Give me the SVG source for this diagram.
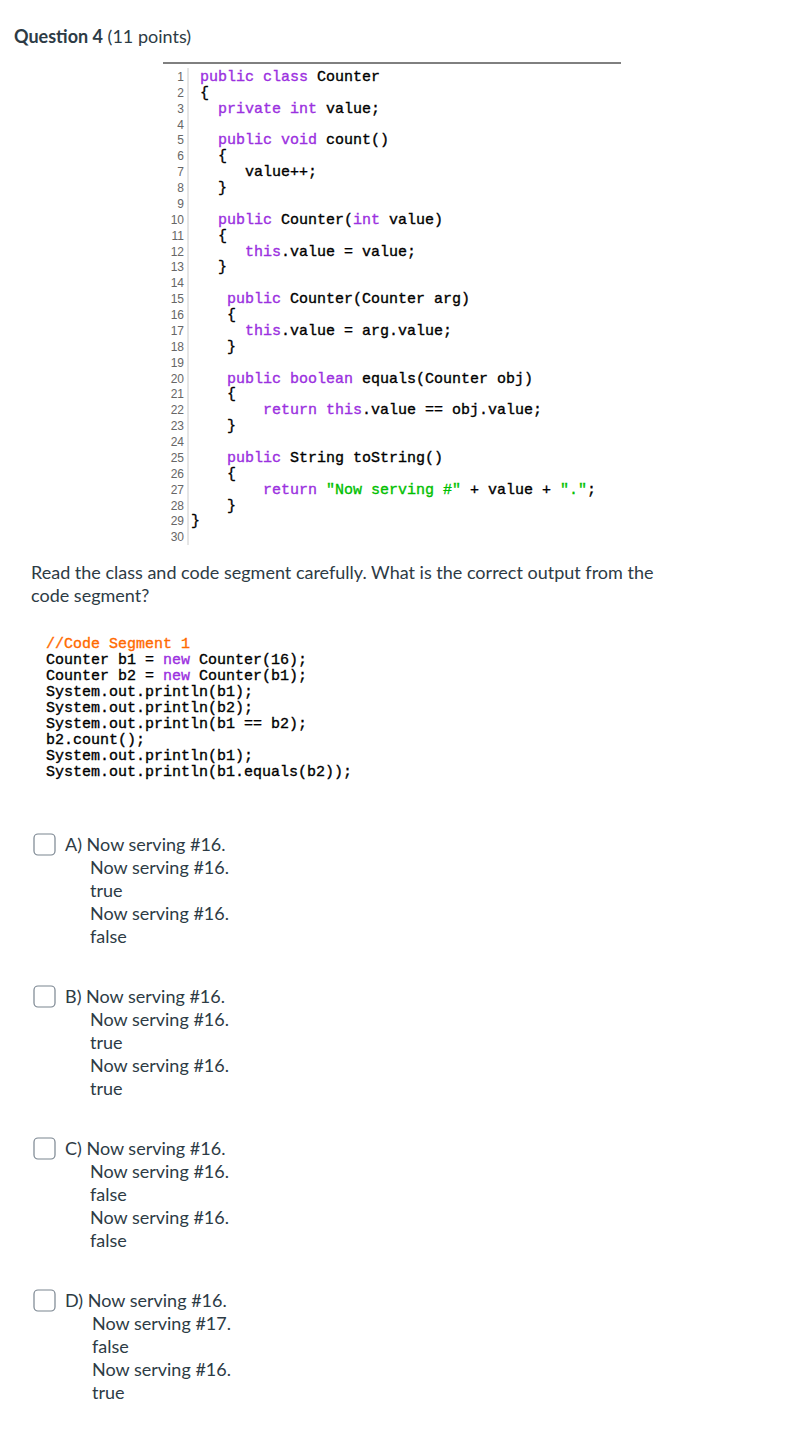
<svg xmlns="http://www.w3.org/2000/svg" width="807" height="1445" viewBox="0 0 807 1445">
<style>
.t{font-family:Lato,"Liberation Sans",sans-serif;fill:#2d3b45;font-size:18px}
.c{font-family:"Liberation Mono",monospace;font-size:15px;fill:#000;stroke:#000;stroke-width:0.35}
.n{font-family:"Liberation Sans",sans-serif;font-size:12px;fill:#666;text-anchor:end}
.k{fill:#9b30e0;stroke:#9b30e0}
.s{fill:#00c000;stroke:#00c000}
.o{fill:#ff6a00;stroke:#ff6a00}
.cb{fill:#fff;stroke:#7a8590;stroke-width:1.2}
</style>
<rect width="807" height="1445" fill="#fff"/>
<text x="14" y="43" class="t"><tspan font-weight="bold">Question 4</tspan> (11 points)</text>
<line x1="163" y1="63" x2="621" y2="63" stroke="#000" stroke-width="1"/>
<line x1="188" y1="68" x2="188" y2="545" stroke="#ccc" stroke-width="1"/>
<g class="n">
<text x="184" y="81">1</text><text x="184" y="97">2</text><text x="184" y="113">3</text><text x="184" y="129">4</text><text x="184" y="144">5</text><text x="184" y="160">6</text><text x="184" y="176">7</text><text x="184" y="192">8</text><text x="184" y="208">9</text><text x="184" y="224">10</text><text x="184" y="240">11</text><text x="184" y="256">12</text><text x="184" y="271">13</text><text x="184" y="287">14</text><text x="184" y="303">15</text><text x="184" y="319">16</text><text x="184" y="335">17</text><text x="184" y="351">18</text><text x="184" y="367">19</text><text x="184" y="383">20</text><text x="184" y="398">21</text><text x="184" y="414">22</text><text x="184" y="430">23</text><text x="184" y="446">24</text><text x="184" y="462">25</text><text x="184" y="478">26</text><text x="184" y="494">27</text><text x="184" y="510">28</text><text x="184" y="525">29</text>
</g>
<svg x="0" y="0" width="807" height="545"><text x="184" y="541" class="n">30</text></svg>
<g class="c">
<text x="200" y="81"><tspan class="k">public class</tspan> Counter</text>
<text x="200" y="97">{</text>
<text x="218" y="113"><tspan class="k">private int</tspan> value;</text>
<text x="218" y="144"><tspan class="k">public void</tspan> count()</text>
<text x="218" y="160">{</text>
<text x="245" y="176">value++;</text>
<text x="218" y="192">}</text>
<text x="218" y="224"><tspan class="k">public</tspan> Counter(<tspan class="k">int</tspan> value)</text>
<text x="218" y="240">{</text>
<text x="245" y="256"><tspan class="k">this</tspan>.value = value;</text>
<text x="218" y="271">}</text>
<text x="227" y="303"><tspan class="k">public</tspan> Counter(Counter arg)</text>
<text x="227" y="319">{</text>
<text x="245" y="335"><tspan class="k">this</tspan>.value = arg.value;</text>
<text x="227" y="351">}</text>
<text x="227" y="383"><tspan class="k">public boolean</tspan> equals(Counter obj)</text>
<text x="227" y="398">{</text>
<text x="263" y="414"><tspan class="k">return this</tspan>.value == obj.value;</text>
<text x="227" y="430">}</text>
<text x="227" y="462"><tspan class="k">public</tspan> String toString()</text>
<text x="227" y="478">{</text>
<text x="263" y="494"><tspan class="k">return</tspan> <tspan class="s">"Now serving #"</tspan> + value + <tspan class="s">"."</tspan>;</text>
<text x="227" y="510">}</text>
<text x="191" y="525">}</text>
</g>
<text x="31" y="579" class="t">Read the class and code segment carefully.  What is the correct output from the</text>
<text x="31" y="602" class="t">code segment?</text>
<g class="c">
<text x="46" y="648" class="o">//Code Segment 1</text>
<text x="46" y="664">Counter b1 = <tspan class="k">new</tspan> Counter(16);</text>
<text x="46" y="680">Counter b2 = <tspan class="k">new</tspan> Counter(b1);</text>
<text x="46" y="696">System.out.println(b1);</text>
<text x="46" y="712">System.out.println(b2);</text>
<text x="46" y="728">System.out.println(b1 == b2);</text>
<text x="46" y="744">b2.count();</text>
<text x="46" y="760">System.out.println(b1);</text>
<text x="46" y="776">System.out.println(b1.equals(b2));</text>
</g>
<g id="optA">
<rect x="34" y="834" width="21" height="21" rx="4" class="cb"/>
<text x="65" y="851" class="t">A) Now serving #16.</text>
<text x="90" y="874" class="t">Now serving #16.</text>
<text x="90" y="897" class="t">true</text>
<text x="90" y="920" class="t">Now serving #16.</text>
<text x="90" y="943" class="t">false</text>
</g>
<g id="optB">
<rect x="34" y="986" width="21" height="21" rx="4" class="cb"/>
<text x="65" y="1003" class="t">B) Now serving #16.</text>
<text x="90" y="1026" class="t">Now serving #16.</text>
<text x="90" y="1049" class="t">true</text>
<text x="90" y="1072" class="t">Now serving #16.</text>
<text x="90" y="1095" class="t">true</text>
</g>
<g id="optC">
<rect x="34" y="1138" width="21" height="21" rx="4" class="cb"/>
<text x="65" y="1155" class="t">C) Now serving #16.</text>
<text x="90" y="1178" class="t">Now serving #16.</text>
<text x="90" y="1201" class="t">false</text>
<text x="90" y="1224" class="t">Now serving #16.</text>
<text x="90" y="1247" class="t">false</text>
</g>
<g id="optD">
<rect x="34" y="1290" width="21" height="21" rx="4" class="cb"/>
<text x="65" y="1307" class="t">D) Now serving #16.</text>
<text x="92" y="1330" class="t">Now serving #17.</text>
<text x="92" y="1353" class="t">false</text>
<text x="92" y="1376" class="t">Now serving #16.</text>
<text x="92" y="1399" class="t">true</text>
</g>
</svg>
